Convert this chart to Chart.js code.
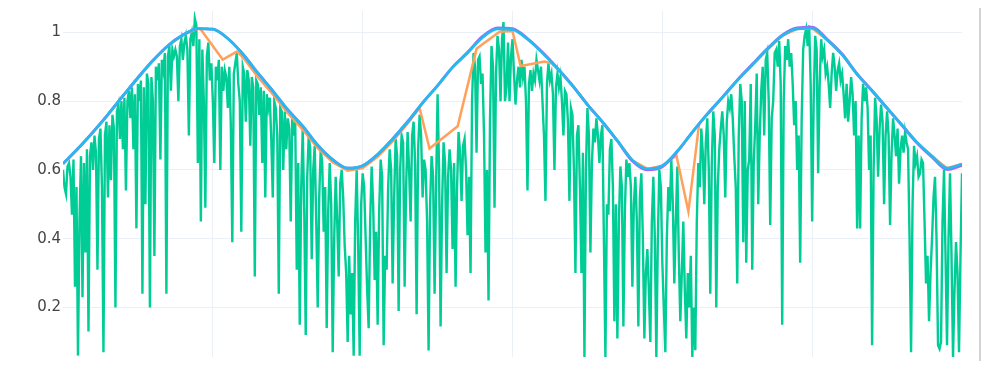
<!DOCTYPE html>
<html>
<head>
<meta charset="utf-8">
<script src="https://cdn.jsdelivr.net/npm/chart.js@4.4.1/dist/chart.umd.min.js"></script>
<style>
    html, body { margin: 0; padding: 0; background: #fff; }
    #wrap { width: 996px; height: 368px; }
</style>
</head>
<body>
<div id="wrap"><canvas id="chart" width="996" height="368"></canvas></div>
<script>
// Y tick labels
const yTicks = [0.2, 0.4, 0.6, 0.8, 1];

// Raw signal (green), one sample every half x step
const signalStep = 0.5;
const signal = [
    // rise to first peak
    0.60, 0.55, 0.53, 0.61, 0.62, 0.58, 0.47, 0.63, 0.26, 0.55,
    0.06, 0.45, 0.64, 0.23, 0.62, 0.36, 0.66, 0.13, 0.64, 0.68,
    0.60, 0.70, 0.65, 0.31, 0.69, 0.72, 0.55, 0.07, 0.70, 0.74,
    0.52, 0.73, 0.57, 0.76, 0.72, 0.20, 0.77, 0.79, 0.69, 0.80,
    0.66, 0.81, 0.54, 0.80, 0.83, 0.75, 0.84, 0.66, 0.82, 0.43,
    0.85, 0.80, 0.86, 0.24, 0.84, 0.50, 0.88, 0.85, 0.20, 0.87,
    0.80, 0.35, 0.90, 0.86, 0.91, 0.63, 0.92, 0.89, 0.94, 0.24,
    0.93, 0.96, 0.83, 0.95, 0.93,
    // first peak and fall
    0.95, 0.93, 0.80, 0.96, 0.98, 0.92, 0.97, 0.99, 0.95, 0.70,
    0.98, 1.00, 0.96, 1.04, 1.02, 0.62, 0.98, 0.45, 0.95, 0.80,
    0.49, 0.93, 0.97, 0.86, 0.91, 0.80, 0.62, 0.90, 0.86, 0.92,
    0.60, 0.90, 0.83, 0.89, 0.87, 0.78, 0.90, 0.73, 0.39, 0.88,
    0.91, 0.94, 0.85, 0.80, 0.42, 0.90, 0.88, 0.74, 0.89, 0.86,
    0.67, 0.87, 0.84, 0.29, 0.86, 0.85, 0.76, 0.84, 0.62, 0.83,
    0.52, 0.82, 0.78, 0.81, 0.69, 0.52, 0.80, 0.78, 0.70, 0.24,
    0.78, 0.77, 0.60, 0.77, 0.66, 0.75,
    // first trough
    0.72, 0.45, 0.75, 0.70, 0.74, 0.31, 0.62, 0.15, 0.55, 0.72,
    0.48, 0.12, 0.58, 0.70, 0.66, 0.34, 0.60, 0.67, 0.45, 0.20,
    0.52, 0.66, 0.62, 0.42, 0.55, 0.14, 0.48, 0.62, 0.50, 0.07,
    0.40, 0.58, 0.45, 0.29, 0.56, 0.60, 0.52, 0.38, 0.30, 0.10,
    0.35, 0.18, 0.30, 0.06, 0.45, 0.60, 0.38, 0.06, 0.50, 0.59,
    0.55, 0.40, 0.25, 0.14, 0.45, 0.61, 0.50, 0.28, 0.42, 0.15,
    0.48, 0.63, 0.58, 0.09, 0.35, 0.31, 0.55, 0.66, 0.60, 0.27,
    0.52, 0.69, 0.64, 0.19, 0.60, 0.70,
    // rise to second peak
    0.68, 0.26, 0.55, 0.71, 0.60, 0.45, 0.70, 0.74, 0.62, 0.18,
    0.66, 0.76, 0.70, 0.52, 0.63, 0.60, 0.45, 0.075, 0.50, 0.64,
    0.58, 0.24, 0.55, 0.82, 0.60, 0.145, 0.50, 0.68, 0.62, 0.30,
    0.58, 0.66, 0.60, 0.37, 0.62, 0.26, 0.55, 0.71, 0.65, 0.51,
    0.67, 0.69, 0.60, 0.41, 0.58, 0.30, 0.80, 0.94, 0.90, 0.65,
    0.92, 0.93, 0.85, 0.88, 0.70, 0.36, 0.60, 0.22, 0.75, 0.96,
    0.90, 0.49, 0.88, 0.99, 0.95, 0.80, 0.98, 1.03, 0.80, 0.84,
    0.97, 0.80, 0.93, 0.98, 0.88, 0.79,
    // fall after second peak
    0.86, 0.90, 0.84, 0.92, 0.87, 0.90, 0.80, 0.54, 0.85, 0.89,
    0.83, 0.88, 0.86, 0.92, 0.89, 0.86, 0.90, 0.80, 0.70, 0.51,
    0.85, 0.91, 0.86, 0.88, 0.82, 0.60, 0.84, 0.88, 0.84, 0.87,
    0.80, 0.70, 0.83, 0.82, 0.74, 0.51, 0.78, 0.76, 0.60, 0.30,
    0.70, 0.73, 0.55, 0.30, 0.65, 0.056, 0.60, 0.78, 0.70, 0.36,
    0.62, 0.72, 0.68, 0.75, 0.70, 0.62, 0.70, 0.73, 0.40, 0.056,
    0.50, 0.47, 0.66, 0.69, 0.55, 0.16, 0.50, 0.11, 0.45, 0.61,
    0.55, 0.145, 0.48, 0.63, 0.58, 0.62,
    // second trough
    0.55, 0.26, 0.50, 0.58, 0.45, 0.145, 0.52, 0.59, 0.40, 0.11,
    0.30, 0.37, 0.25, 0.10, 0.45, 0.58, 0.40, 0.056, 0.40, 0.60,
    0.55, 0.33, 0.20, 0.07, 0.40, 0.55, 0.48, 0.63, 0.50, 0.27,
    0.45, 0.61, 0.35, 0.16, 0.30, 0.45, 0.25, 0.11, 0.30, 0.20,
    0.35, 0.056, 0.20, 0.076, 0.45, 0.62, 0.55, 0.72, 0.65, 0.50,
    0.68, 0.75, 0.60, 0.24, 0.62, 0.77, 0.70, 0.20, 0.55, 0.66,
    0.72, 0.77, 0.70, 0.52, 0.74, 0.80, 0.78, 0.82, 0.75, 0.64,
    0.55, 0.27, 0.70, 0.85, 0.80, 0.39,
    // third peak
    0.80, 0.33, 0.60, 0.63, 0.85, 0.31, 0.62, 0.73, 0.88, 0.50,
    0.70, 0.83, 0.90, 0.70, 0.92, 0.94, 0.80, 0.44, 0.75, 0.80,
    0.94, 0.95, 0.90, 0.975, 0.85, 0.15, 0.80, 0.96, 0.92, 0.98,
    0.90, 0.94, 0.85, 0.73, 0.80, 0.60, 0.70, 0.33, 0.75, 0.95,
    0.99, 1.01, 0.96, 1.02, 0.85, 0.45, 0.80, 0.99, 0.95, 0.59,
    0.85, 0.98, 0.93, 0.95, 0.88, 0.90, 0.85, 0.78, 0.88, 0.94,
    0.90, 0.83, 0.89, 0.91, 0.86, 0.88, 0.82, 0.75, 0.85, 0.74,
    0.80, 0.87, 0.82, 0.70, 0.80, 0.43,
    // final fall
    0.70, 0.43, 0.75, 0.85, 0.80, 0.84, 0.78, 0.60, 0.70, 0.09,
    0.60, 0.81, 0.75, 0.58, 0.72, 0.79, 0.74, 0.50, 0.70, 0.77,
    0.70, 0.44, 0.65, 0.75, 0.70, 0.64, 0.72, 0.56, 0.66, 0.70,
    0.65, 0.71, 0.68, 0.66, 0.40, 0.07, 0.50, 0.67, 0.62, 0.64,
    0.58, 0.59, 0.63, 0.62, 0.45, 0.27, 0.35, 0.16, 0.30, 0.40,
    0.52, 0.58, 0.40, 0.09, 0.08, 0.10, 0.45, 0.60, 0.35, 0.09,
    0.40, 0.59, 0.35, 0.056, 0.25, 0.39, 0.30, 0.07, 0.35, 0.59
];

// Upper envelope (cyan), sampled every 5 x steps
const envelopeX = [
    0, 5, 10, 15, 20, 25, 30, 35, 40, 45, 50, 55, 60, 65, 70, 75, 80, 85, 90, 95,
    100, 105, 110, 115, 120, 125, 130, 135, 140, 145, 150, 155, 160, 165, 170, 175, 180, 185, 190, 195,
    200, 205, 210, 215, 220, 225, 230, 235, 240, 245, 250, 255, 260, 265, 270, 275, 280, 285, 290, 295, 300
];
const envelope = [
    0.618, 0.662, 0.710, 0.761, 0.815, 0.868, 0.918, 0.961, 0.992, 1.011,
    1.009, 0.982, 0.937, 0.882, 0.830, 0.775, 0.727, 0.672, 0.630, 0.605,
    0.612, 0.645, 0.690, 0.740, 0.795, 0.845, 0.898, 0.940, 0.985, 1.010,
    1.008, 0.980, 0.940, 0.895, 0.845, 0.790, 0.740, 0.685, 0.628, 0.603,
    0.612, 0.655, 0.710, 0.762, 0.810, 0.860, 0.905, 0.950, 0.990, 1.010,
    1.012, 0.978, 0.935, 0.878, 0.830, 0.780, 0.730, 0.680, 0.640, 0.605,
    0.617
];

// Model fit (purple), same sampling as the envelope
const model = [
    0.618, 0.662, 0.710, 0.761, 0.815, 0.868, 0.918, 0.961, 0.992, 1.011,
    1.009, 0.982, 0.937, 0.882, 0.830, 0.775, 0.727, 0.672, 0.630, 0.605,
    0.612, 0.645, 0.690, 0.740, 0.795, 0.845, 0.899, 0.942, 0.988, 1.013,
    1.011, 0.982, 0.942, 0.896, 0.846, 0.790, 0.739, 0.684, 0.626, 0.600,
    0.609, 0.653, 0.709, 0.762, 0.811, 0.861, 0.907, 0.952, 0.992, 1.013,
    1.015, 0.980, 0.937, 0.879, 0.830, 0.779, 0.729, 0.678, 0.637, 0.601,
    0.613
];

// Tracked maximum (orange)
const trackX = [
    0, 5, 10, 15, 20, 25, 30, 35, 40, 45,
    46, 53.3, 58, 60,
    65, 70, 75, 80, 85, 90, 95, 100, 105, 110, 115,
    119, 122.3, 131.7, 138, 141, 145.7, 150, 152.7, 160.7, 163,
    165, 170, 175, 180, 185, 190, 195, 200,
    204.7, 208.7, 212.3,
    215, 220, 225, 230, 235, 240, 245, 250, 255, 260, 265, 270, 275, 280, 285, 290, 295, 300
];
const track = [
    0.618, 0.662, 0.710, 0.761, 0.815, 0.868, 0.918, 0.961, 0.992, 1.011,
    1.008, 0.921, 0.944, 0.928,
    0.870, 0.820, 0.765, 0.717, 0.663, 0.622, 0.598, 0.605, 0.638, 0.683, 0.735,
    0.780, 0.662, 0.727, 0.952, 0.972, 1.002, 1.004, 0.902, 0.915, 0.910,
    0.895, 0.845, 0.790, 0.740, 0.685, 0.628, 0.603, 0.612,
    0.642, 0.479, 0.735,
    0.762, 0.810, 0.860, 0.905, 0.950, 0.990, 1.010, 1.012, 0.978, 0.935, 0.878, 0.830, 0.780, 0.730, 0.680, 0.640, 0.605, 0.617
];

const xMax = 300;

function toPoints(xs, ys) {
    return ys.map((y, i) => ({ x: xs[i], y: y }));
}

// thin grey frame line on the right, like the panel edge in the original
const panelEdge = {
    id: 'panelEdge',
    afterDraw(chart) {
        const ctx = chart.ctx;
        ctx.save();
        ctx.strokeStyle = '#c4c4c4';
        ctx.lineWidth = 1.5;
        ctx.beginPath();
        ctx.moveTo(980, 8);
        ctx.lineTo(980, 361);
        ctx.stroke();
        ctx.restore();
    }
};

const ctx = document.getElementById('chart').getContext('2d');
const chart = new Chart(ctx, {
    type: 'line',
    data: {
        datasets: [
            {
                label: 'envelope',
                data: toPoints(envelopeX, envelope),
                borderColor: '#27b8f0',
                borderWidth: 2.8,
                cubicInterpolationMode: 'monotone',
                pointRadius: 0,
                order: 0
            },
            {
                label: 'model',
                data: toPoints(envelopeX, model),
                borderColor: '#ab63fa',
                borderWidth: 2.8,
                cubicInterpolationMode: 'monotone',
                pointRadius: 0,
                order: 1
            },
            {
                label: 'track',
                data: toPoints(trackX, track),
                borderColor: '#ffa15a',
                borderWidth: 2.5,
                tension: 0,
                pointRadius: 0,
                order: 2
            },
            {
                label: 'signal',
                data: signal.map((y, i) => ({ x: i * signalStep, y: y })),
                borderColor: '#00cc96',
                borderWidth: 2.4,
                tension: 0,
                pointRadius: 0,
                order: 3
            }
        ]
    },
    options: {
        responsive: false,
        animation: false,
        devicePixelRatio: 1,
        layout: { padding: { top: 8, right: 34, bottom: 3, left: 0 } },
        plugins: {
            legend: { display: false },
            tooltip: { enabled: false }
        },
        scales: {
            x: {
                type: 'linear',
                min: 0,
                max: xMax,
                ticks: { display: false, stepSize: 50 },
                border: { display: false },
                grid: {
                    drawTicks: false,
                    color: (c) => (c.tick && (c.tick.value === 0 || c.tick.value === xMax)) ? 'rgba(0,0,0,0)' : '#ebeff7',
                    lineWidth: 1
                },
                afterFit: (scale) => { scale.height = 0; }
            },
            y: {
                min: 0.056,
                max: 1.062,
                afterBuildTicks: (scale) => {
                    scale.ticks = yTicks.map(v => ({ value: v }));
                },
                ticks: {
                    padding: 2,
                    color: '#444',
                    font: { family: 'DejaVu Sans', size: 15 },
                    callback: (v) => String(+v.toFixed(2))
                },
                border: { display: false },
                grid: { drawTicks: false, color: '#ebeff7', lineWidth: 1 },
                afterFit: (scale) => { scale.width = 63; }
            }
        }
    },
    plugins: [panelEdge]
});
</script>
</body>
</html>
